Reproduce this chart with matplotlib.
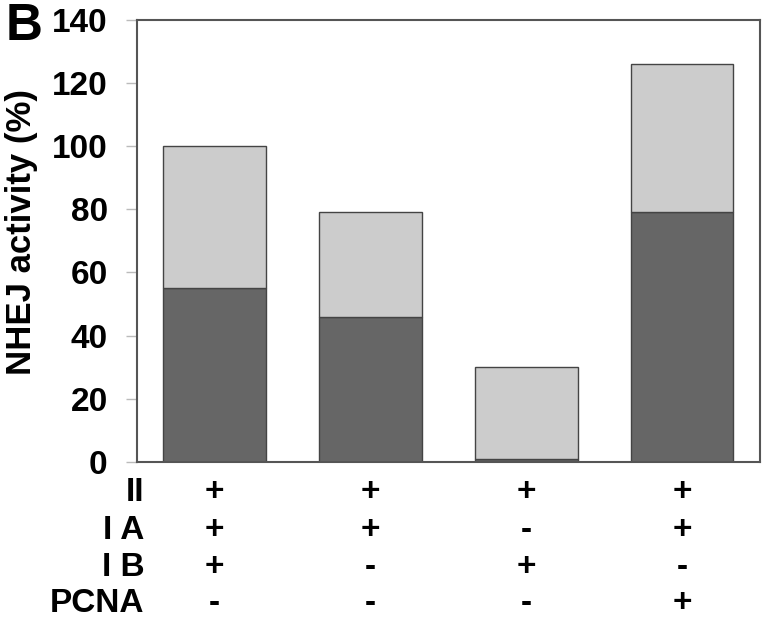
import matplotlib.pyplot as plt
import numpy as np

plt.rcParams['font.family'] = ['Liberation Sans', 'DejaVu Sans']
plt.rcParams['font.weight'] = 'bold'

# data
conditions = ["1", "2", "3", "4"]
dark_part = [55, 46, 1, 79]
light_part = [45, 33, 29, 47]
row_labels = ["II", "I A", "I B", "PCNA"]
row_signs = [
    ["+", "+", "+", "+"],
    ["+", "+", "-", "+"],
    ["+", "-", "+", "-"],
    ["-", "-", "-", "+"],
]
yticks = [0, 20, 40, 60, 80, 100, 120, 140]

fig = plt.figure(figsize=(7.69, 6.2), dpi=100)
ax = fig.add_axes([0.178, 0.255, 0.81, 0.713])

x = np.arange(len(conditions))
ax.bar(x, dark_part, width=0.66, color="#666666", edgecolor="#444444", linewidth=1.0)
ax.bar(x, light_part, width=0.66, bottom=dark_part, color="#cccccc", edgecolor="#444444", linewidth=1.0)

ax.set_xlim(-0.5, 3.5)
ax.set_ylim(0, 140)
ax.set_yticks(yticks)
ax.set_yticklabels([str(v) for v in yticks], fontsize=24, fontweight="bold")
ax.set_xticks([])
ax.tick_params(axis="y", length=8, width=1, color="#bbbbbb", pad=13)
for s in ax.spines.values():
    s.set_color("#555555")
    s.set_linewidth(1.5)

fig.text(22/769, 0.626, "NHEJ activity (%)", rotation=90, ha="center", va="center",
         fontsize=25, fontweight="bold")
fig.text(6/769, 1 - 27/620, "B", ha="left", va="center", fontsize=37, fontweight="bold")

# table of conditions below the axis
row_y = [-0.070, -0.156, -0.240, -0.321]
trans = ax.get_xaxis_transform()
for i, lab in enumerate(row_labels):
    ax.text(0.012, row_y[i], lab, transform=ax.transAxes, ha="right", va="center",
            fontsize=24, fontweight="bold", clip_on=False)
    for j, sgn in enumerate(row_signs[i]):
        ax.text(x[j], row_y[i], sgn, transform=trans, ha="center", va="center",
                fontsize=24, fontweight="bold", clip_on=False)

plt.savefig("out.png", dpi=100)
